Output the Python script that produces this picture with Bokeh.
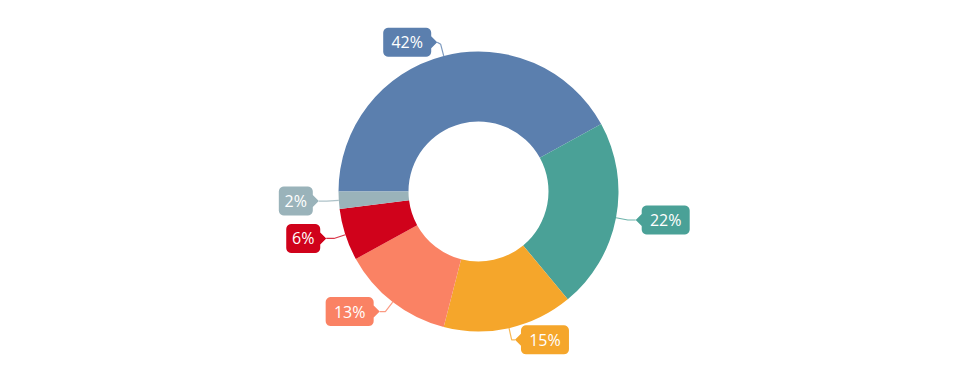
import numpy as np
from bokeh.plotting import figure
from bokeh.models import Range1d, ColumnDataSource
from bokeh.embed import file_html
from bokeh.resources import INLINE
from bokeh.core.properties import value

# ---- data ----
percents = [42, 22, 15, 13, 6, 2]
labels = ["42%", "22%", "15%", "13%", "6%", "2%"]
colors = ["#5B7FAE", "#4AA197", "#F5A62B", "#FA8264", "#D0021B", "#9AB3BA"]

# ---- layout constants ----
W, H = 975, 377
cx, cy = 478, 186
R_OUT, R_IN = 140, 70
R_BEND = 152
BOX_H = 29
PTR_LEN = 6
PTR_HALF = 6
CORNER = 5

frac = np.array(percents, dtype=float) / sum(percents)
cum = np.concatenate([[0.0], np.cumsum(frac)])
start = np.pi - cum[:-1] * 2 * np.pi
end = np.pi - cum[1:] * 2 * np.pi
mid = (start + end) / 2

p = figure(width=W, height=H, output_backend="svg", toolbar_location=None,
           x_range=Range1d(0, W), y_range=Range1d(0, H), min_border=0)
p.axis.visible = False
p.grid.visible = False
p.outline_line_color = None
p.background_fill_color = "white"
p.border_fill_color = "white"

src = ColumnDataSource(dict(start=start, end=end, color=colors))
p.annular_wedge(x=cx, y=cy, inner_radius=R_IN, outer_radius=R_OUT,
                start_angle="start", end_angle="end", direction="clock",
                fill_color="color", line_color=None, source=src)


def arc(ax, ay, r, a0, a1, n=6):
    t = np.radians(np.linspace(a0, a1, n))
    return list(ax + r * np.cos(t)), list(ay + r * np.sin(t))


box_xs, box_ys, lead_xs, lead_ys = [], [], [], []
tx, ty = [], []
for m, lab in zip(mid, labels):
    c, s = np.cos(m), np.sin(m)
    side = 1 if c >= 0 else -1
    ox, oy = cx + R_OUT * c, cy + R_OUT * s
    bx, by = cx + R_BEND * c, cy + R_BEND * s
    dx = 2 + 6 * abs(c)
    tipx, tipy = bx + side * dx, by + (2 if s > 0.5 else 0)
    lead_xs.append([ox, bx, tipx])
    lead_ys.append([oy, by, tipy])

    w = 14 * len(lab) + 6
    if side > 0:
        xl = tipx + PTR_LEN
        xr = xl + w
    else:
        xr = tipx - PTR_LEN
        xl = xr - w
    yt, yb = tipy + BOX_H / 2, tipy - BOX_H / 2
    r = CORNER
    X, Y = [], []
    a = arc(xl + r, yt - r, r, 180, 90); X += a[0]; Y += a[1]
    a = arc(xr - r, yt - r, r, 90, 0); X += a[0]; Y += a[1]
    if side < 0:
        X += [xr, tipx, xr]; Y += [tipy + PTR_HALF, tipy, tipy - PTR_HALF]
    a = arc(xr - r, yb + r, r, 0, -90); X += a[0]; Y += a[1]
    a = arc(xl + r, yb + r, r, -90, -180); X += a[0]; Y += a[1]
    if side > 0:
        X += [xl, tipx, xl]; Y += [tipy - PTR_HALF, tipy, tipy + PTR_HALF]
    box_xs.append(X)
    box_ys.append(Y)
    tx.append((xl + xr) / 2)
    ty.append(tipy)

p.multi_line(xs=lead_xs, ys=lead_ys, line_color=colors, line_width=1.2, line_alpha=0.8)
p.patches(xs=box_xs, ys=box_ys, fill_color=colors, line_color=None)
p.text(x=tx, y=ty, text=labels, text_align="center", text_baseline="middle",
       text_color="white", text_font=value("Open Sans"), text_font_size="16px")

open("out.html", "w").write(file_html(p, INLINE))
